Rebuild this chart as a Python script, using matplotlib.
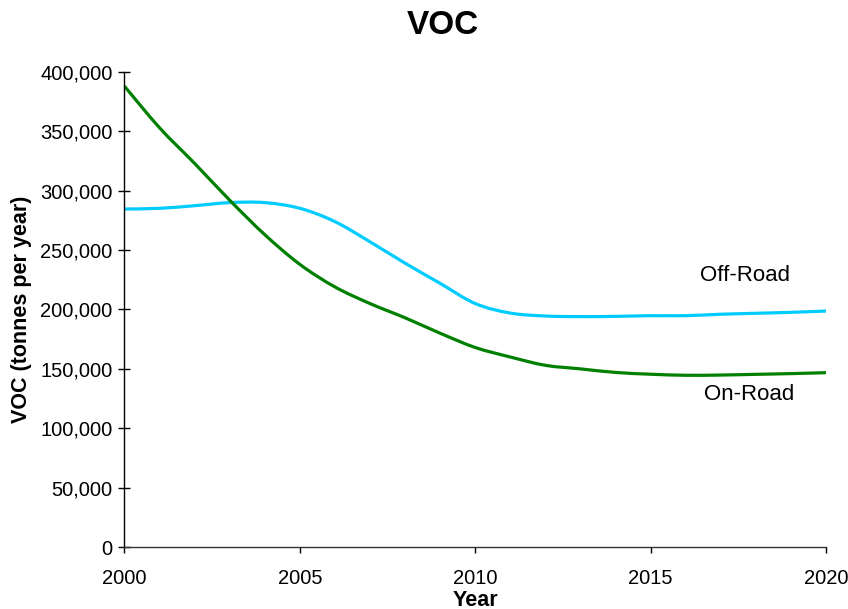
import matplotlib.pyplot as plt
from matplotlib.path import Path
from matplotlib.patches import PathPatch
from matplotlib.ticker import FuncFormatter

plt.rcParams['font.family'] = ['Liberation Sans', 'DejaVu Sans']

years = list(range(2000, 2021))
on_road = [388000, 353000, 323000, 292000, 263000, 238000, 219000, 205000,
           193000, 180000, 168000, 160000, 153000, 150000, 147000, 145500,
           144600, 144800, 145400, 146000, 146800]
off_road = [284600, 285200, 287400, 290000, 290000, 285200, 274000, 257000,
            239000, 222000, 205000, 197000, 194500, 194000, 194200, 194800,
            194800, 196000, 196800, 197600, 198700]


def smooth_path(xs, ys):
    # Excel-style smoothed line: cubic Bezier segments through the points
    pts = list(zip(xs, ys))
    verts = [pts[0]]
    codes = [Path.MOVETO]
    n = len(pts)
    for i in range(n - 1):
        p0 = pts[max(i - 1, 0)]
        p1 = pts[i]
        p2 = pts[i + 1]
        p3 = pts[min(i + 2, n - 1)]
        c1 = (p1[0] + (p2[0] - p0[0]) / 6, p1[1] + (p2[1] - p0[1]) / 6)
        c2 = (p2[0] - (p3[0] - p1[0]) / 6, p2[1] - (p3[1] - p1[1]) / 6)
        verts += [c1, c2, p2]
        codes += [Path.CURVE4] * 3
    return Path(verts, codes)


fig = plt.figure(figsize=(8.48, 6.09), dpi=100)
ax = fig.add_axes([0.1468, 0.1018, 0.8272, 0.78])

for vals, col in [(off_road, '#00CCFF'), (on_road, '#008000')]:
    ax.add_patch(PathPatch(smooth_path(years, vals), facecolor='none',
                           edgecolor=col, lw=2.3, capstyle='butt'))

ax.set_xlim(2000, 2020)
ax.set_ylim(0, 400000)
ax.set_xticks(range(2000, 2021, 5))
ax.set_yticks(range(0, 400001, 50000))
ax.yaxis.set_major_formatter(FuncFormatter(lambda v, p: f'{int(v):,}'))

for s in ['top', 'right']:
    ax.spines[s].set_visible(False)
ax.spines['left'].set_linewidth(1.0)
ax.spines['bottom'].set_linewidth(1.0)
ax.spines['bottom'].set_color('#333333')

ax.tick_params(axis='y', direction='inout', length=9, width=1, labelsize=14.5, pad=4)
ax.tick_params(axis='x', direction='out', length=4, width=1, labelsize=14.5, pad=12)

ax.set_xlabel('Year', fontsize=15.5, fontweight='bold', labelpad=1)
ax.set_ylabel('VOC (tonnes per year)', fontsize=15.5, fontweight='bold', labelpad=6)

fig.text(0.522, 0.958, 'VOC', ha='center', va='center', fontsize=24, fontweight='bold')

ax.text(2017.69, 229000, 'Off-Road', ha='center', va='center', fontsize=16)
ax.text(2017.8, 128000, 'On-Road', ha='center', va='center', fontsize=16)

fig.savefig('out.png', dpi=100)
